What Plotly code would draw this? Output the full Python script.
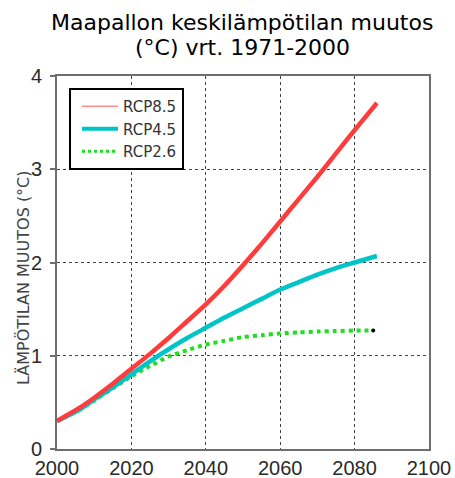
import plotly.graph_objects as go

# Global mean temperature change (°C) relative to 1971-2000
years_85 = [2000, 2006, 2010, 2015, 2020, 2025, 2030, 2035, 2040, 2045, 2050,
            2055, 2060, 2065, 2070, 2075, 2080, 2086]
rcp85 = [0.30, 0.44, 0.55, 0.70, 0.86, 1.02, 1.19, 1.37, 1.55, 1.75, 1.97,
         2.20, 2.44, 2.68, 2.92, 3.17, 3.42, 3.71]

years_45 = [2000, 2006, 2010, 2015, 2020, 2025, 2030, 2035, 2040, 2045, 2050,
            2055, 2060, 2065, 2070, 2075, 2080, 2086]
rcp45 = [0.30, 0.42, 0.53, 0.66, 0.80, 0.94, 1.07, 1.19, 1.30, 1.41, 1.51,
         1.61, 1.71, 1.79, 1.87, 1.94, 2.00, 2.07]

years_26 = [2000, 2006, 2010, 2015, 2020, 2025, 2030, 2035, 2040, 2045, 2050,
            2055, 2060, 2065, 2070, 2075, 2080, 2085]
rcp26 = [0.30, 0.42, 0.52, 0.65, 0.78, 0.89, 0.99, 1.06, 1.12, 1.16, 1.20,
         1.22, 1.24, 1.25, 1.26, 1.265, 1.27, 1.27]

x_ticks = [2000, 2020, 2040, 2060, 2080, 2100]
y_ticks = [0, 1, 2, 3, 4]
legend_names = ["RCP8.5", "RCP4.5", "RCP2.6"]
title_lines = ["Maapallon keskilämpötilan muutos", "(°C) vrt. 1971-2000"]
y_title = "LÄMPÖTILAN MUUTOS (°C)"

RED = "#ff3b3b"
CYAN = "#00c4c8"
GREEN = "#1fe01f"

W, H = 455, 478
ML, MR, MT, MB = 57, 26, 76, 29
PW, PH = W - ML - MR, H - MT - MB


def px_x(px):
    return (px - ML) / PW


def px_y(py):
    return (H - MB - py) / PH


fig = go.Figure()

# Data curves (drawn without legend entries)
fig.add_trace(go.Scatter(x=years_26, y=rcp26, mode="lines",
                         line=dict(color=GREEN, width=4, dash="dot",
                                   shape="spline", smoothing=0.6),
                         showlegend=False, hoverinfo="skip"))
fig.add_trace(go.Scatter(x=years_26[-1:], y=rcp26[-1:], mode="markers",
                         marker=dict(color="black", size=4),
                         showlegend=False, hoverinfo="skip"))
fig.add_trace(go.Scatter(x=years_45, y=rcp45, mode="lines",
                         line=dict(color=CYAN, width=4.5,
                                   shape="spline", smoothing=0.6),
                         showlegend=False, hoverinfo="skip"))
fig.add_trace(go.Scatter(x=years_85, y=rcp85, mode="lines",
                         line=dict(color=RED, width=4.5,
                                   shape="spline", smoothing=0.6),
                         showlegend=False, hoverinfo="skip"))

# Legend keys
legend_styles = [
    dict(color="#ff8c8c", width=1.5),
    dict(color=CYAN, width=4),
    dict(color=GREEN, width=3, dash="dot"),
]
for name, style in zip(legend_names, legend_styles):
    fig.add_trace(go.Scatter(x=[None], y=[None], mode="lines", name=name,
                             line=style))

tick_font = dict(family="Liberation Sans, Arial, sans-serif", size=20,
                 color="#2a2a2a")
axis_common = dict(
    showline=True, linecolor="#6e6e6e", linewidth=2, mirror=True,
    showgrid=True, gridcolor="#444444", gridwidth=1, griddash="dot",
    zeroline=False, automargin=False, tickfont=tick_font,
)

fig.update_xaxes(range=[2000, 2100], tickvals=x_ticks, ticks="",
                 ticklabelstandoff=0, **axis_common)
fig.update_yaxes(range=[0, 4], tickvals=y_ticks, ticks="outside", ticklen=5,
                 tickcolor="#6e6e6e", tickwidth=1.5, ticklabelstandoff=4,
                 **axis_common)

title_font = dict(family="DejaVu Sans, sans-serif", size=22, color="black")
annotations = [
    dict(text=title_lines[0], x=px_x(242), y=px_y(23), xref="paper",
         yref="paper", xanchor="center", yanchor="middle", showarrow=False,
         font=title_font),
    dict(text=title_lines[1], x=px_x(242), y=px_y(48), xref="paper",
         yref="paper", xanchor="center", yanchor="middle", showarrow=False,
         font=title_font),
    dict(text=y_title, x=px_x(23), y=px_y(278), xref="paper", yref="paper",
         xanchor="center", yanchor="middle", textangle=-90, showarrow=False,
         font=dict(family="DejaVu Sans, sans-serif", size=16,
                   color="#444444")),
]

fig.update_layout(
    width=W, height=H,
    margin=dict(l=ML, r=MR, t=MT, b=MB),
    paper_bgcolor="white", plot_bgcolor="white",
    legend=dict(
        x=px_x(69), y=px_y(88), xanchor="left", yanchor="top",
        bgcolor="white", bordercolor="black", borderwidth=2,
        font=dict(family="DejaVu Sans, sans-serif", size=15, color="#333333"),
        tracegroupgap=0, itemwidth=36, indentation=6,
    ),
    annotations=annotations,
)

fig.write_html("out.html")
